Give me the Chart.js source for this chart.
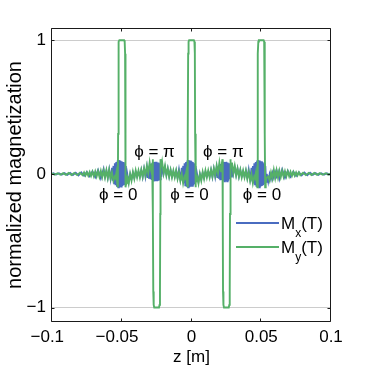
<!DOCTYPE html>
<html><head><meta charset="utf-8">
<script src="https://cdn.jsdelivr.net/npm/chart.js@4.4.0/dist/chart.umd.min.js"></script>
<style>html,body{margin:0;padding:0;background:#fff;} #wrap{width:366px;height:366px;}</style>
</head><body><div id="wrap"><canvas id="c" width="366" height="366"></canvas></div>
<script>
// ---- axes ----
const xTicks = [-0.1, -0.05, 0, 0.05, 0.1];
const xTickLabels = ['\u22120.1', '\u22120.05', '0', '0.05', '0.1'];
const yTicks = [-1, 0, 1];
const yTickLabels = ['\u22121', '0', '1'];

// ---- pulse centres ----
const pulseZ = [-0.05, -0.025, 0, 0.025, 0.05];
const pulseType = ['pos', 'neg', 'pos', 'neg', 'pos'];

// ---- My(T) ----
const myTailLeftZ = [-0.100,-0.098,-0.096,-0.094,-0.092,-0.090,-0.088,-0.086,-0.084,-0.082,-0.080,-0.078,-0.077,-0.076,-0.075,-0.074,-0.073,-0.072,-0.071,-0.070,-0.069,-0.068,-0.067,-0.066,-0.065,-0.064,-0.063,-0.062,-0.061,-0.060,-0.059,-0.058,-0.057,-0.056,-0.055];
const myTailLeft  = [0.004,-0.005,0.005,-0.006,0.006,-0.007,0.007,-0.008,0.008,-0.009,0.009,-0.010,0.011,-0.012,0.012,-0.013,0.014,-0.015,0.016,-0.017,0.018,-0.019,0.020,-0.021,0.022,-0.024,0.025,-0.027,0.028,-0.030,0.030,-0.035,0.010,-0.050,-0.020];
const pulseOffsets = [-0.0045,-0.0038,-0.0032,-0.0028,-0.0026,-0.0024,-0.0021,-0.0017,0.0017,0.0021,0.0024,0.0026,0.0028,0.0032,0.0036];
const myPosPulse = [-0.03,0.01,-0.07,-0.10,0.30,0.90,0.99,1.00,1.00,0.99,0.90,0.30,-0.10,-0.07,-0.03];
const myNegPulse = [0.05,0.02,0.08,0.11,-0.30,-0.88,-0.98,-1.00,-1.00,-0.98,-0.88,-0.30,0.11,0.08,0.05];
const gapOffsets = [0.004,0.005,0.006,0.007,0.008,0.009,0.010,0.011,0.012,0.013,0.014,0.015,0.016,0.017,0.018,0.019,0.020];
const myGapAfterPos = [-0.020,-0.070,0.000,-0.050,0.015,-0.035,0.025,-0.025,0.025,-0.025,0.030,-0.020,0.040,-0.010,0.060,0.005,0.085];
const myGapAfterNeg = [0.085,0.005,0.060,-0.010,0.040,-0.020,0.030,-0.025,0.025,-0.025,0.025,-0.035,0.015,-0.050,0.000,-0.070,-0.020];
const myTailRightZ = [0.055,0.056,0.057,0.058,0.059,0.060,0.061,0.062,0.063,0.064,0.065,0.066,0.067,0.068,0.069,0.070,0.071,0.072,0.073,0.074,0.075,0.076,0.077,0.078,0.080,0.082,0.084,0.086,0.088,0.090,0.092,0.094,0.096,0.098,0.100];
const myTailRight  = [-0.020,-0.050,0.010,-0.035,0.030,-0.030,0.028,-0.027,0.025,-0.024,0.022,-0.021,0.020,-0.019,0.018,-0.017,0.016,-0.015,0.014,-0.013,0.012,-0.012,0.011,-0.010,0.009,-0.009,0.008,-0.008,0.007,-0.007,0.006,-0.006,0.005,-0.005,0.004];

// ---- Mx(T) ----
const mxTailLeftZ = [-0.100,-0.099,-0.097,-0.095,-0.093,-0.091,-0.089,-0.087,-0.085,-0.083,-0.081,-0.079,-0.077,-0.075,-0.073,-0.071,-0.069,-0.067,-0.065,-0.063];
const mxTailLeft  = [0.000,0.005,-0.005,0.006,-0.006,0.007,-0.007,0.008,-0.009,0.010,-0.011,0.012,-0.014,0.016,-0.018,0.021,-0.025,0.030,-0.035,0.040];
const burstOffsets = [-0.012,-0.011,-0.010,-0.009,-0.008,-0.007,-0.0065,-0.006,-0.0055,-0.005,-0.0045,-0.004,-0.0035,-0.003,-0.0025,-0.002,-0.0015,-0.001,-0.0005,0,0.0005,0.001,0.0015,0.002,0.0025,0.003,0.0035,0.004,0.005,0.006,0.007,0.008,0.009,0.010,0.011,0.012];
const mxBurstZero = [-0.020,0.025,-0.030,0.035,-0.040,0.045,-0.050,0.060,-0.070,0.080,-0.085,0.090,-0.095,0.100,-0.100,0.105,-0.100,0.100,-0.095,0.095,-0.090,0.090,-0.085,0.080,-0.075,0.060,-0.060,0.000,-0.060,0.000,-0.040,0.010,-0.030,0.015,-0.020,0.015];
const mxBurstPi   = [-0.020,0.030,-0.025,0.040,-0.025,0.045,-0.030,0.055,-0.035,0.065,-0.040,0.075,-0.045,0.085,-0.050,0.090,-0.055,0.090,-0.055,0.090,-0.055,0.085,-0.050,0.080,-0.040,0.070,-0.020,0.060,0.000,0.050,-0.010,0.040,-0.020,0.030,-0.020,0.020];
const mxTailRightZ = [0.063,0.065,0.067,0.069,0.071,0.073,0.075,0.077,0.079,0.081,0.083,0.085,0.087,0.089,0.091,0.093,0.095,0.097,0.099,0.100];
const mxTailRight  = [-0.040,0.035,-0.030,0.025,-0.021,0.018,-0.016,0.014,-0.012,0.011,-0.010,0.009,-0.008,0.007,-0.007,0.006,-0.006,0.005,-0.005,0.000];

// ---- annotations ----
const phaseLabels = ['\u03D5 = 0', '\u03D5 = \u03C0', '\u03D5 = 0', '\u03D5 = \u03C0', '\u03D5 = 0'];
const phaseZ = [-0.0525, -0.0265, -0.0015, 0.0228, 0.0505];
const phaseY = [-0.158, 0.165, -0.158, 0.165, -0.158];

// ---- legend ----
const seriesBase = ['M', 'M'];
const seriesSub = ['x', 'y'];
const seriesSuffix = ['(T)', '(T)'];

const BLUE = '#4a6cc0';
const GREEN = '#55b068';
const FONT = "'Liberation Sans', 'DejaVu Sans', Arial, sans-serif";

function buildMy() {
  const pts = [];
  myTailLeftZ.forEach((z, i) => pts.push({x: z, y: myTailLeft[i]}));
  pulseZ.forEach((c, k) => {
    const shape = pulseType[k] === 'pos' ? myPosPulse : myNegPulse;
    pulseOffsets.forEach((o, i) => pts.push({x: c + o, y: shape[i]}));
    if (k < pulseZ.length - 1) {
      const gap = pulseType[k] === 'pos' ? myGapAfterPos : myGapAfterNeg;
      gapOffsets.forEach((o, i) => pts.push({x: c + o, y: gap[i]}));
    }
  });
  myTailRightZ.forEach((z, i) => pts.push({x: z, y: myTailRight[i]}));
  return pts;
}
function buildMx() {
  const pts = [];
  mxTailLeftZ.forEach((z, i) => pts.push({x: z, y: mxTailLeft[i]}));
  pulseZ.forEach((c, k) => {
    const burst = pulseType[k] === 'pos' ? mxBurstZero : mxBurstPi;
    burstOffsets.forEach((o, i) => pts.push({x: c + o, y: burst[i]}));
  });
  mxTailRightZ.forEach((z, i) => pts.push({x: z, y: mxTailRight[i]}));
  return pts;
}

const framePlugin = {
  id: 'frame',
  afterDatasetsDraw(chart) {
    const {ctx, chartArea: a, scales: {x, y}} = chart;
    ctx.save();
    // annotations
    ctx.fillStyle = '#000';
    ctx.font = '17px ' + FONT;
    ctx.textAlign = 'center';
    ctx.textBaseline = 'middle';
    phaseLabels.forEach((t, i) => ctx.fillText(t, x.getPixelForValue(phaseZ[i]), y.getPixelForValue(phaseY[i])));
    // box
    ctx.strokeStyle = '#1a1a1a';
    ctx.lineWidth = 1;
    const L = Math.round(a.left) - 0.5, R = Math.round(a.right) - 0.5, T = Math.round(a.top) + 0.5, B = Math.round(a.bottom) - 0.5;
    ctx.beginPath();
    ctx.moveTo(L, T); ctx.lineTo(R, T); ctx.lineTo(R, B); ctx.lineTo(L, B); ctx.closePath();
    ctx.stroke();
    // ticks (inward)
    const tl = 3;
    ctx.beginPath();
    xTicks.forEach(v => {
      const px = Math.round(x.getPixelForValue(v)) - 0.5;
      ctx.moveTo(px, B); ctx.lineTo(px, B - tl);
      ctx.moveTo(px, T); ctx.lineTo(px, T + tl);
    });
    yTicks.forEach(v => {
      const py = Math.round(y.getPixelForValue(v)) + 0.5;
      ctx.moveTo(L, py); ctx.lineTo(L + tl, py);
      ctx.moveTo(R, py); ctx.lineTo(R - tl, py);
    });
    ctx.stroke();
    // legend
    const colors = [BLUE, GREEN];
    const rows = [223, 247];
    rows.forEach((ry, i) => {
      ctx.strokeStyle = colors[i];
      ctx.lineWidth = 2;
      ctx.beginPath(); ctx.moveTo(236, ry); ctx.lineTo(279, ry); ctx.stroke();
      ctx.fillStyle = '#000';
      ctx.textAlign = 'left';
      ctx.textBaseline = 'alphabetic';
      ctx.font = '17px ' + FONT;
      let tx = 281;
      ctx.fillText(seriesBase[i], tx, ry + 6);
      tx += ctx.measureText(seriesBase[i]).width;
      ctx.font = '12px ' + FONT;
      ctx.fillText(seriesSub[i], tx, ry + 14);
      tx += ctx.measureText(seriesSub[i]).width;
      ctx.font = '17px ' + FONT;
      ctx.fillText(seriesSuffix[i], tx, ry + 6);
    });
    ctx.restore();
  }
};

new Chart(document.getElementById('c'), {
  type: 'line',
  data: {
    datasets: [
      {label: 'Mx(T)', data: buildMx(), borderColor: BLUE, borderWidth: 1.7, pointRadius: 0, tension: 0, order: 1, fill: false},
      {label: 'My(T)', data: buildMy(), borderColor: GREEN, borderWidth: 1.9, pointRadius: 0, tension: 0, order: 0, fill: false}
    ]
  },
  options: {
    responsive: false,
    animation: false,
    devicePixelRatio: 1,
    layout: {padding: {left: 0, right: 35, top: 28, bottom: 0}},
    plugins: {legend: {display: false}, tooltip: {enabled: false}},
    scales: {
      x: {
        type: 'linear', min: -0.1, max: 0.1,
        afterFit(s) { s.height = 44; },
        afterBuildTicks(s) { s.ticks = xTicks.map(v => ({value: v})); },
        grid: {display: false, drawTicks: false},
        border: {display: false},
        ticks: {
          autoSkip: false, maxRotation: 0, padding: 5, color: '#000',
          font: {family: FONT, size: 17},
          // negative labels: keep the number centred on the tick, minus hangs left
          callback: (v) => { const t = xTickLabels[xTicks.indexOf(v)]; return t.charAt(0) === '\u2212' ? t + '\u2007' : t; }
        },
        title: {display: true, text: 'z [m]', color: '#000', font: {family: FONT, size: 17}, padding: {top: 0, bottom: -2}}
      },
      y: {
        type: 'linear', min: -1.108, max: 1.092,
        afterFit(s) { s.width = 52; },
        afterBuildTicks(s) { s.ticks = yTicks.map(v => ({value: v})); },
        grid: {display: true, drawTicks: false, lineWidth: 1,
               color: (c) => (c.tick && c.tick.value === 0) ? 'rgba(0,0,0,0)' : '#cccccc'},
        border: {display: false},
        ticks: {
          autoSkip: false, padding: 6, color: '#000',
          font: {family: FONT, size: 17},
          callback: (v) => yTickLabels[yTicks.indexOf(v)]
        },
        title: {display: true, text: 'normalized magnetization', color: '#000', font: {family: FONT, size: 20}, padding: {top: 3, bottom: 0}}
      }
    }
  },
  plugins: [framePlugin]
});
</script></body></html>
